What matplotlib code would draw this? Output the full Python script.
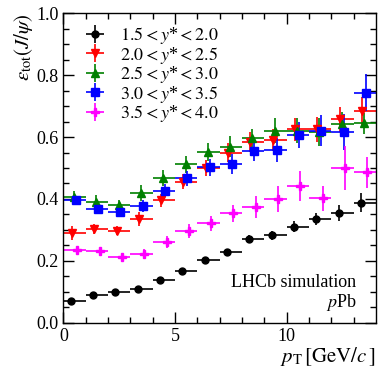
import numpy as np
import matplotlib
matplotlib.use("Agg")
from matplotlib import pyplot as plt

plt.rcParams['font.family'] = ['Liberation Serif', 'DejaVu Serif']
plt.rcParams['mathtext.fontset'] = 'stix'

# pT bins [GeV/c]
bin_lo = np.arange(0, 14)
bin_hi = bin_lo + 1

labels = [r"$1.5 < y$*$ < 2.0$", r"$2.0 < y$*$ < 2.5$", r"$2.5 < y$*$ < 3.0$",
          r"$3.0 < y$*$ < 3.5$", r"$3.5 < y$*$ < 4.0$"]
colors = ["black", "red", "green", "blue", "magenta"]
markers = ["o", "v", "^", "s", "P"]

# mean pT position inside each bin
offsets = [0.33, 0.38, 0.47, 0.55, 0.62]

eff_1 = [0.071, 0.090, 0.099, 0.109, 0.137, 0.167, 0.203, 0.228, 0.270, 0.282, 0.310, 0.336, 0.354, 0.388]
err_1 = [0.006, 0.006, 0.006, 0.007, 0.008, 0.009, 0.010, 0.011, 0.013, 0.015, 0.018, 0.020, 0.025, 0.031]
eff_2 = [0.289, 0.303, 0.298, 0.335, 0.395, 0.455, 0.500, 0.550, 0.585, 0.590, 0.625, 0.625, 0.657, 0.683]
err_2 = [0.023, 0.017, 0.015, 0.022, 0.020, 0.024, 0.027, 0.030, 0.032, 0.035, 0.038, 0.040, 0.040, 0.045]
eff_3 = [0.405, 0.390, 0.380, 0.418, 0.467, 0.512, 0.551, 0.569, 0.596, 0.620, 0.621, 0.615, 0.642, 0.644]
err_3 = [0.020, 0.024, 0.015, 0.026, 0.025, 0.027, 0.030, 0.033, 0.030, 0.040, 0.040, 0.045, 0.040, 0.035]
eff_4 = [0.395, 0.368, 0.357, 0.378, 0.427, 0.467, 0.502, 0.513, 0.554, 0.558, 0.607, 0.620, 0.615, 0.743]
err_4 = [0.015, 0.015, 0.012, 0.019, 0.022, 0.024, 0.027, 0.032, 0.030, 0.038, 0.043, 0.050, 0.058, 0.060]
eff_5 = [0.236, 0.231, 0.212, 0.223, 0.260, 0.296, 0.321, 0.354, 0.373, 0.401, 0.442, 0.402, 0.500, 0.486]
err_5 = [0.010, 0.012, 0.010, 0.015, 0.020, 0.022, 0.025, 0.028, 0.035, 0.042, 0.048, 0.040, 0.070, 0.050]

effs = [eff_1, eff_2, eff_3, eff_4, eff_5]
errs = [err_1, err_2, err_3, err_4, err_5]

fig = plt.figure(figsize=(3.82, 3.79), dpi=100)
ax = fig.add_axes([0.166, 0.1485, 0.818, 0.8165])

for i in range(5):
    x = bin_lo + offsets[i]
    xerr = [x - bin_lo, bin_hi - x]
    ms = 5 if markers[i] == "o" else 6
    ax.errorbar(x, effs[i], yerr=errs[i], xerr=xerr, fmt=markers[i], color=colors[i],
                ms=ms, elinewidth=1.2, capsize=0, label=labels[i])

ax.set_xlim(0, 14)
ax.set_ylim(0, 1.0)
ax.set_xticks([0, 5, 10])
ax.set_xticks(np.arange(0, 14, 1), minor=True)
ax.set_yticks(np.arange(0, 1.01, 0.2))
ax.set_yticks(np.arange(0, 1.01, 0.05), minor=True)
ax.yaxis.set_major_formatter(matplotlib.ticker.FormatStrFormatter('%.1f'))
ax.tick_params(which='both', direction='in', top=True, right=True, labelsize=13, width=1)
ax.tick_params(which='major', length=8)
ax.tick_params(which='minor', length=4)
for s in ax.spines.values():
    s.set_linewidth(1)

ax.set_xlabel(r"$p_{\rm T}\,[{\rm GeV}/c\,]$", fontsize=15, loc='right', labelpad=0)
ax.set_ylabel(r"$\varepsilon_{\rm tot}(J/\psi)$", fontsize=15, loc='top', labelpad=1)

ax.text(0.938, 0.114, "LHCb simulation", transform=ax.transAxes, ha='right', va='baseline', fontsize=13)
ax.text(0.938, 0.052, r"$p$Pb", transform=ax.transAxes, ha='right', va='baseline', fontsize=13)

ax.legend(loc='upper left', frameon=False, fontsize=13, handlelength=0.85, handletextpad=0.97,
          labelspacing=-0.08, borderaxespad=0.0, borderpad=0.0, bbox_to_anchor=(0.077, 0.962))

fig.savefig("out.png", dpi=100)
